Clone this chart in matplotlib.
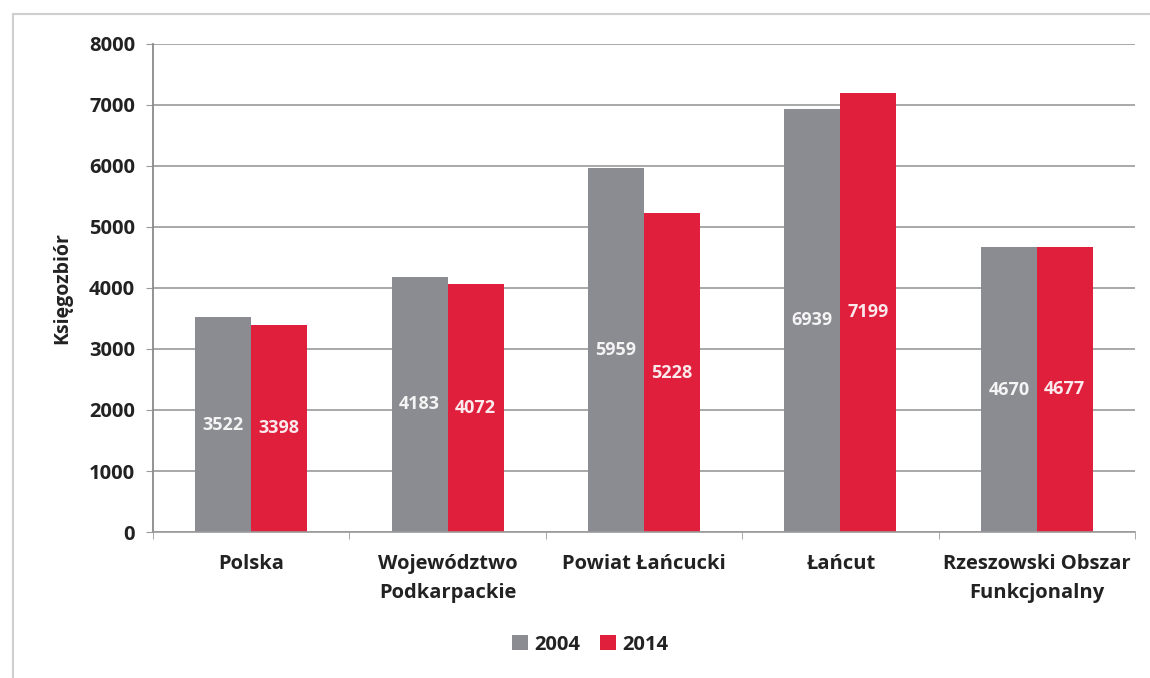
import matplotlib
matplotlib.use('Agg')
import matplotlib.pyplot as plt
from matplotlib.lines import Line2D
import numpy as np

categories = ['Polska', 'Województwo\nPodkarpackie', 'Powiat Łańcucki',
              'Łańcut', 'Rzeszowski Obszar\nFunkcjonalny']
years = ['2004', '2014']
vals_2004 = [3522, 4183, 5959, 6939, 4670]
vals_2014 = [3398, 4072, 5228, 7199, 4677]

gray = '#8b8b92'
red = '#e01f3d'

plt.rcParams['font.family'] = ['Open Sans', 'DejaVu Sans']

fig = plt.figure(figsize=(11.5, 6.78), dpi=100)
ax = fig.add_axes([0.133, 0.2153, 0.854, 0.72])

# scan frame
fig.add_artist(Line2D([0.0115, 0.0115], [0.0, 0.979], color='#cfcfcf', lw=1.5))
fig.add_artist(Line2D([0.0115, 1.0], [0.979, 0.979], color='#cfcfcf', lw=1.5))

x = np.arange(len(categories))
w = 0.285
b1 = ax.bar(x - w / 2, vals_2004, w, color=gray, label=years[0], zorder=2)
b2 = ax.bar(x + w / 2, vals_2014, w, color=red, label=years[1], zorder=2)
ax.bar_label(b1, label_type='center', color='#f4f4f4', fontsize=13,
             fontweight='bold')
ax.bar_label(b2, label_type='center', color='#fbe9ec', fontsize=13,
             fontweight='bold')

ax.set_xlim(-0.5, len(categories) - 0.5)
ax.set_ylim(0, 8000)
ax.set_yticks(range(0, 8001, 1000))
ax.yaxis.grid(True, color='#9a9a9a', lw=1.2, zorder=0)
ax.set_axisbelow(True)

ax.set_xticks(x)
ax.set_xticklabels(categories, fontsize=14.5, fontweight='bold', color='#222222',
                   linespacing=1.6)
ax.set_xticks(np.arange(-0.5, len(categories), 1.0), minor=True)
ax.tick_params(axis='x', which='major', length=0, pad=16)
ax.tick_params(axis='x', which='minor', length=5, color='#9a9a9a')
ax.tick_params(axis='y', length=5, color='#9a9a9a', labelsize=14.5, pad=8)
for lab in ax.get_yticklabels():
    lab.set_fontweight('bold')
    lab.set_color('#222222')

ax.set_ylabel('Księgozbiór', fontsize=14, fontweight='bold', color='#222222',
              labelpad=12)

for s in ['top', 'right']:
    ax.spines[s].set_visible(False)
ax.spines['left'].set_color('#8a8a8a')
ax.spines['left'].set_linewidth(1.3)
ax.spines['bottom'].set_color('#9a9a9a')
ax.spines['bottom'].set_linewidth(1.2)

leg = fig.legend(handles=[b1, b2], labels=years, loc='center',
                 bbox_to_anchor=(0.513, 0.049), ncol=2, frameon=False,
                 handlelength=0.8, handleheight=0.8, handletextpad=0.3,
                 columnspacing=1.0, prop={'size': 14.5, 'weight': 'bold'})
for t in leg.get_texts():
    t.set_color('#222222')

fig.savefig('out.png', dpi=100)
